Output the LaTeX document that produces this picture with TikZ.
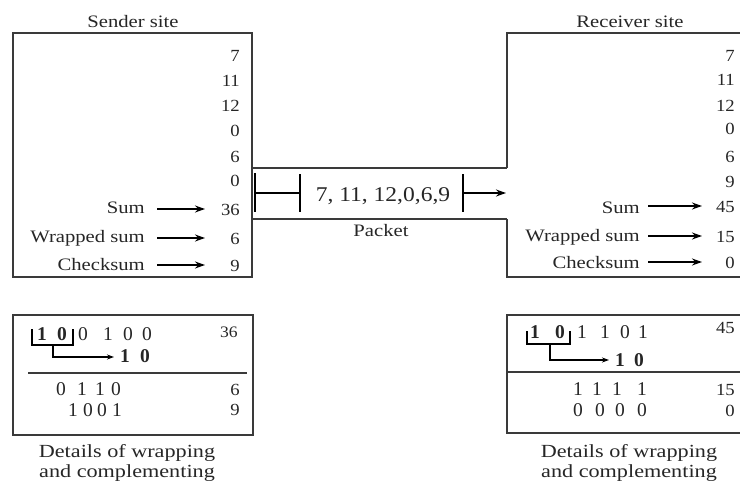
\documentclass[tikz,border=0pt]{standalone}
\usepackage{fontspec}
\setmainfont{Liberation Serif}
\usetikzlibrary{arrows.meta}
\definecolor{ink}{HTML}{262626}
\definecolor{rule}{HTML}{3A3A3A}

\begin{document}
\begin{tikzpicture}[x=1pt,y=-1pt,
  every node/.style={inner sep=0pt, text=ink},
  txt/.style={font=\fontsize{17.5}{20}\selectfont, xscale=1.18},
  title/.style={txt, anchor=base},
  val/.style={font=\fontsize{17}{20}\selectfont, xscale=1.1, anchor=base east},
  lbl/.style={txt, anchor=base east},
  captext/.style={font=\fontsize{18.5}{20}\selectfont, xscale=1.2, anchor=base},
  pkt/.style={font=\fontsize{21}{24}\selectfont, xscale=1.12, anchor=base},
  bitn/.style={font=\fontsize{19.5}{22}\selectfont, anchor=base},
  bitb/.style={font=\fontsize{19.5}{22}\selectfont\bfseries, anchor=base},
  frame/.style={draw=rule, line width=1.4pt},
  ptr/.style={draw=black, line width=1.4pt, -{Stealth[length=10pt,width=7pt]}},
  thin ptr/.style={draw=black, line width=1.1pt, -{Stealth[length=7pt,width=5pt]}},
  bar/.style={draw=black, line width=2.6pt},
  brk/.style={draw=black, line width=1.6pt},
]
\useasboundingbox (0,0) rectangle (740,487);

% ---------- sender site ----------
\node[title] (stitle) at (133,28) {Sender site};
\draw[frame] (13,33) rectangle (252,277);
\foreach \v/\yb [count=\i] in {7/62, 11/87, 12/112, 0/137, 6/162, 0/186}
  \node[val] (s\i) at (240,\yb) {\v};
\node[val] (ssum) at (240,215) {36};
\node[val] (swrap) at (240,244) {6};
\node[val] (scheck) at (240,271) {9};
\node[lbl] (lsum) at (145,213) {Sum};
\node[lbl] (lwrap) at (145,242) {Wrapped sum};
\node[lbl] (lcheck) at (145,270) {Checksum};
\foreach \a/\y in {sum/209, wrap/238, check/265}{
  \coordinate (sa\a) at (157,\y);
  \coordinate (sb\a) at (205,\y);
  \draw[ptr] (sa\a) -- (sb\a);
}

% ---------- channel and packet ----------
\draw[frame] (252,168) -- (507,168);
\draw[frame] (252,219) -- (507,219);
\coordinate (p1t) at (255,173); \coordinate (p1b) at (255,212);
\coordinate (p2t) at (300,174); \coordinate (p2b) at (300,212);
\coordinate (p3t) at (463,174); \coordinate (p3b) at (463,212);
\draw[bar] (p1t) -- (p1b);
\draw[bar] (p2t) -- (p2b);
\draw[bar] (p3t) -- (p3b);
\coordinate (h1) at (255,193); \coordinate (h2) at (300,193);
\draw[draw=black, line width=1.4pt] (h1) -- (h2);
\node[pkt] (data) at (383,201) {7, 11, 12,0,6,9};
\coordinate (h3) at (463,193); \coordinate (h4) at (506,193);
\draw[ptr] (h3) -- (h4);
\node[title] (ptitle) at (381,236) {Packet};

% ---------- receiver site ----------
\node[title] (rtitle) at (630,28) {Receiver site};
\draw[frame] (740,33) -- (507,33) -- (507,168);
\draw[frame] (507,219) -- (507,277) -- (740,277);
\foreach \v/\yb [count=\i] in {7/62, 11/86, 12/112, 0/135, 6/162, 9/187}
  \node[val] (r\i) at (735,\yb) {\v};
\node[val] (rsum) at (735,212) {45};
\node[val] (rwrap) at (735,242) {15};
\node[val] (rcheck) at (735,268) {0};
\node[lbl] (msum) at (640,213) {Sum};
\node[lbl] (mwrap) at (640,241) {Wrapped sum};
\node[lbl] (mcheck) at (640,268) {Checksum};
\foreach \a/\y in {sum/206, wrap/236, check/262}{
  \coordinate (ra\a) at (648,\y);
  \coordinate (rb\a) at (702,\y);
  \draw[ptr] (ra\a) -- (rb\a);
}

% ---------- sender: wrapping and complementing ----------
\draw[frame] (13,315) rectangle (253,435);
\draw[frame] (28,373) -- (247,373);
\node[bitb] (a1) at (42,340) {1};
\node[bitb] (a2) at (62,340) {0};
\node[bitn] (a3) at (83,340) {0};
\node[bitn] (a4) at (108,340) {1};
\node[bitn] (a5) at (128,340) {0};
\node[bitn] (a6) at (147,340) {0};
\node[val, font=\fontsize{16}{18}\selectfont] (av) at (238,337) {36};
\draw[brk] (32,329) |- (73,345) -- (73,329);
\coordinate (ad) at (53,345); \coordinate (ae) at (114,357);
\draw[thin ptr] (ad) |- (ae);
\node[bitb] (c1) at (125,362) {1};
\node[bitb] (c2) at (145,362) {0};
\foreach \b/\x [count=\i] in {0/61, 1/82, 1/100, 0/116}
  \node[bitn] (w\i) at (\x,395) {\b};
\node[val] (wv) at (240,395) {6};
\foreach \b/\x [count=\i] in {1/73, 0/88, 0/102, 1/117}
  \node[bitn] (k\i) at (\x,416) {\b};
\node[val] (kv) at (240,415) {9};
\node[captext] (scap1) at (127,457) {Details of wrapping};
\node[captext] (scap2) at (127,477) {and complementing};

% ---------- receiver: wrapping and complementing ----------
\draw[frame] (740,315) -- (507,315) -- (507,433) -- (740,433);
\draw[frame] (507,372) -- (740,372);
\node[bitb] (b1) at (535,338) {1};
\node[bitb] (b2) at (560,338) {0};
\foreach \b/\x [count=\i] in {1/582, 1/605, 0/625, 1/643}
  \node[bitn] (bb\i) at (\x,338) {\b};
\node[val] (bv) at (735,333) {45};
\draw[brk] (527,331) |- (570,344) -- (570,331);
\coordinate (bd) at (550,344); \coordinate (be) at (609,360);
\draw[thin ptr] (bd) |- (be);
\node[bitb] (d1) at (620,366) {1};
\node[bitb] (d2) at (639,366) {0};
\foreach \b/\x [count=\i] in {1/578, 1/597, 1/617, 1/642}
  \node[bitn] (x\i) at (\x,395) {\b};
\node[val] (xv) at (735,395) {15};
\foreach \b/\x [count=\i] in {0/578, 0/600, 0/620, 0/642}
  \node[bitn] (z\i) at (\x,416) {\b};
\node[val] (zv) at (735,416) {0};
\node[captext] (rcap1) at (629,457) {Details of wrapping};
\node[captext] (rcap2) at (629,477) {and complementing};
\end{tikzpicture}
\end{document}
